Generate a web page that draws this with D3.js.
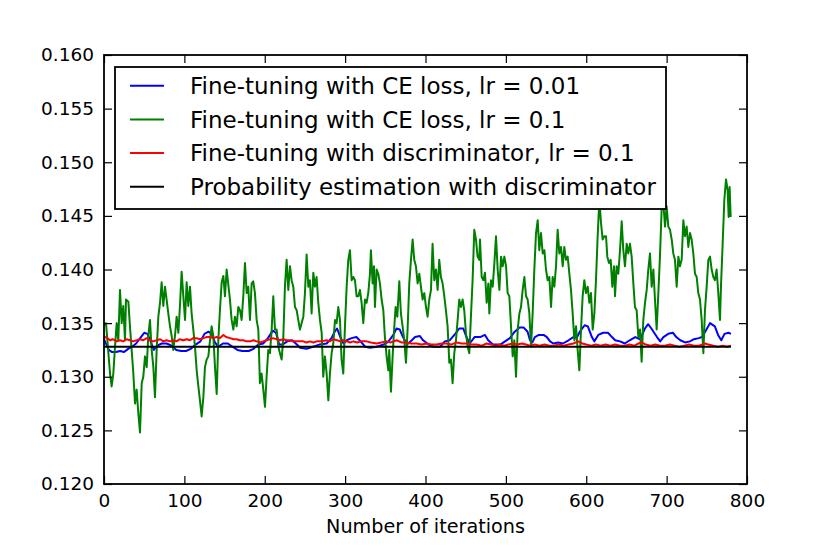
<!DOCTYPE html>
<html>
<head>
<meta charset="utf-8">
<script src="https://cdn.jsdelivr.net/npm/d3@7"></script>
<style>
  body { margin: 0; background: #fff; }
  svg { display: block; font-family: "DejaVu Sans", sans-serif; }
</style>
</head>
<body>
<div id="chart"></div>
<script>
// series: [iteration, value]
let ceLowLr = [[0,0.1335],[3,0.1330],[6,0.1325],[10,0.1323],[15,0.1323],[20,0.1324],[25,0.1323],[30,0.1326],[35,0.1328],[40,0.1331],[45,0.1336],[50,0.1341],[54,0.1340],[58,0.1333],[62,0.1325],[66,0.1329],[72,0.1331],[78,0.1331],[84,0.1329],[90,0.1325],[96,0.1324],[102,0.1324],[108,0.1326],[114,0.1330],[120,0.1333],[125,0.1340],[130,0.1342],[134,0.1340],[138,0.1332],[142,0.1328],[148,0.1331],[154,0.1331],[160,0.1328],[166,0.1325],[172,0.1324],[180,0.1324],[186,0.1326],[192,0.1330],[198,0.1331],[204,0.1336],[210,0.1343],[214,0.1341],[218,0.1330],[222,0.1330],[228,0.1333],[234,0.1334],[240,0.1330],[244,0.1327],[252,0.1326],[260,0.1328],[268,0.1330],[277,0.1331],[283,0.1336],[287,0.1342],[290,0.1345],[294,0.1337],[298,0.1331],[302,0.1334],[308,0.1336],[314,0.1337],[318,0.1334],[325,0.1328],[331,0.1327],[339,0.1328],[348,0.1330],[354,0.1333],[360,0.1339],[364,0.1345],[368,0.1344],[372,0.1337],[377,0.1330],[383,0.1334],[387,0.1337],[393,0.1338],[397,0.1334],[404,0.1330],[410,0.1328],[418,0.1328],[424,0.1333],[430,0.1334],[437,0.1340],[442,0.1345],[447,0.1345],[451,0.1337],[455,0.1331],[461,0.1337],[468,0.1337],[474,0.1339],[478,0.1334],[484,0.1330],[493,0.1330],[499,0.1333],[505,0.1336],[511,0.1342],[517,0.1346],[522,0.1346],[527,0.1342],[530,0.1334],[533,0.1332],[536,0.1337],[541,0.1339],[547,0.1339],[551,0.1337],[555,0.1333],[559,0.1331],[565,0.1332],[571,0.1331],[578,0.1334],[584,0.1337],[588,0.1336],[592,0.1342],[598,0.1348],[602,0.1347],[607,0.1337],[610,0.1333],[615,0.1339],[621,0.1341],[627,0.1341],[632,0.1337],[636,0.1334],[642,0.1333],[648,0.1331],[654,0.1334],[661,0.1337],[667,0.1335],[673,0.1345],[677,0.1349],[681,0.1345],[688,0.1337],[692,0.1333],[696,0.1337],[702,0.1340],[708,0.1341],[712,0.1337],[717,0.1334],[723,0.1332],[729,0.1333],[734,0.1335],[740,0.1336],[744,0.1337],[748,0.1342],[754,0.1350],[760,0.1347],[764,0.1339],[768,0.1334],[772,0.1340],[777,0.1341],[780,0.1340]];

let ceHighLr = [[0,0.1348],[2.5,0.1350],[7.5,0.1303],[9.5,0.1291],[11.6,0.1303],[13.7,0.1328],[15.8,0.1350],[17.8,0.1334],[19.9,0.1381],[22,0.1350],[24,0.1366],[26.1,0.1334],[27.4,0.1372],[30.3,0.1370],[32.3,0.1347],[34.4,0.1325],[36.5,0.1303],[38.6,0.1275],[40.6,0.1288],[42.7,0.1266],[44.8,0.1248],[46.9,0.1294],[48.9,0.1300],[51,0.1319],[53.1,0.1309],[55.1,0.1338],[57.2,0.1353],[59.3,0.1325],[61.4,0.1309],[63.4,0.1281],[65.5,0.1325],[67.6,0.1356],[69.7,0.1369],[71.7,0.1388],[73.8,0.1366],[75.9,0.1384],[77.9,0.1372],[80,0.1359],[82.1,0.1347],[84.2,0.1338],[86.2,0.1325],[88.3,0.1338],[90.4,0.1356],[92.5,0.1341],[94.5,0.1366],[96.6,0.1398],[98.7,0.1375],[100.8,0.1353],[102.8,0.1388],[104.9,0.1366],[107,0.1384],[109,0.1359],[111.1,0.1344],[113.2,0.1328],[115.3,0.1306],[117.4,0.1291],[119.4,0.1278],[121.5,0.1263],[123.6,0.1281],[125.6,0.1309],[127.7,0.1316],[129.8,0.1319],[131.9,0.1334],[133.9,0.1347],[136,0.1338],[138.1,0.1309],[140.2,0.1284],[142.2,0.1334],[144.3,0.1363],[146.4,0.1388],[148.5,0.1394],[150.5,0.1375],[152.6,0.1400],[156.7,0.1372],
  [158.8,0.1353],[160.9,0.1344],[162.9,0.1356],[165,0.1347],[167.1,0.1365],[169.2,0.1362],[171.2,0.1353],[173.3,0.1375],[175.4,0.1406],[177.5,0.1378],[179.5,0.1384],[181.6,0.1353],[183.7,0.1387],[185.7,0.1389],[187.8,0.1378],[189.9,0.1353],[192,0.1344],[194,0.1294],[196.1,0.1303],[198.2,0.1288],[200.3,0.1272],[202.3,0.1300],[204.4,0.1325],[206.5,0.1322],[208.6,0.1344],[210.6,0.1375],[212.7,0.1344],[214.8,0.1344],[216.9,0.1328],[218.9,0.1322],[221,0.1316],[223.1,0.1337],[225.1,0.1384],[227.2,0.1409],[229.3,0.1381],[231.4,0.1403],[233.4,0.1390],[235.5,0.1384],[237.6,0.1365],[239.7,0.1362],[241.7,0.1353],[243.8,0.1344],[245.9,0.1350],[248,0.1356],[250,0.1378],[252.1,0.1414],[254.2,0.1384],[256.2,0.1390],[258.3,0.1359],[260.4,0.1397],[262.5,0.1384],[264.5,0.1393],[266.6,0.1369],[268.7,0.1353],[270.8,0.1341],[272.8,0.1300],[274.9,0.1319],[277,0.1303],[279.1,0.1278],[281.1,0.1303],[283.2,0.1322],[285.3,0.1331],[287.4,0.1353],[289.4,0.1350],[291.5,0.1365],[293.6,0.1353],[295.6,0.1316],[297.7,0.1303],[299.8,0.1347],[301.9,0.1384],[303.9,0.1409],[306,0.1418],[308.1,0.1390],[310.2,0.1393],[312.2,0.1390],
  [314.3,0.1375],[316.4,0.1375],[318.4,0.1381],[320.5,0.1369],[322.6,0.1350],[324.7,0.1372],[326.7,0.1369],[328.8,0.1378],[330.9,0.1396],[332.1,0.1418],[334.2,0.1387],[335.9,0.1403],[337.1,0.1365],[339.2,0.1400],[341.2,0.1396],[343.3,0.1387],[345.4,0.1372],[347.5,0.1362],[349.5,0.1337],[351.6,0.1319],[353.7,0.1306],[354.9,0.1325],[357,0.1286],[359.1,0.1319],[360.7,0.1341],[362.8,0.1365],[364.9,0.1356],[367.4,0.1389],[369.4,0.1359],[371.5,0.1347],[373.6,0.1334],[375.7,0.1313],[377.7,0.1344],[379.8,0.1387],[381.9,0.1409],[384,0.1428],[386,0.1409],[388.1,0.1403],[390.2,0.1387],[392.3,0.1396],[394.3,0.1384],[396.4,0.1372],[398.5,0.1378],[400.6,0.1365],[402.6,0.1356],[404.7,0.1372],[406.8,0.1381],[408.8,0.1424],[410.9,0.1390],[413,0.1400],[415.1,0.1381],[417.1,0.1409],[419.2,0.1393],[421.3,0.1387],[423.4,0.1375],[425.4,0.1362],[427.5,0.1347],[429.6,0.1313],[431.7,0.1316],[433.7,0.1294],[435.8,0.1322],[437.9,0.1334],[440,0.1353],[442,0.1372],[444.1,0.1365],[446.2,0.1372],[448.2,0.1362],[450.3,0.1341],[452.4,0.1328],[454.5,0.1322],[456.5,0.1356],[458.6,0.1390],[460.7,0.1437],[462.8,0.1428],[464.8,0.1412],[466.9,0.1409],
  [467.8,0.1428],[469.9,0.1393],[472,0.1390],[474,0.1397],[476.1,0.1369],[478.2,0.1387],[479.4,0.1359],[481.5,0.1390],[483.6,0.1384],[485.7,0.1406],[487.7,0.1431],[489.8,0.1400],[491.9,0.1381],[494,0.1412],[496,0.1403],[498.1,0.1412],[500.2,0.1403],[502.2,0.1378],[504.3,0.1375],[506.4,0.1347],[508.5,0.1319],[510.5,0.1334],[512.6,0.1300],[514.7,0.1344],[516.8,0.1359],[518.8,0.1365],[520.9,0.1381],[523,0.1393],[525.1,0.1375],[527.1,0.1372],[529.2,0.1359],[531.3,0.1328],[533.3,0.1359],[535.4,0.1400],[537.5,0.1434],[539.6,0.1446],[541.6,0.1418],[543.7,0.1434],[545.8,0.1415],[547.9,0.1418],[549.9,0.1400],[552,0.1390],[554.1,0.1393],[556.2,0.1365],[558.2,0.1393],[560.3,0.1384],[562.4,0.1403],[564.4,0.1437],[566.5,0.1415],[568.6,0.1421],[570.7,0.1403],[572.7,0.1421],[574.8,0.1409],[576.9,0.1412],[579,0.1396],[581,0.1381],[583.1,0.1359],[585.2,0.1334],[587.3,0.1347],[589.3,0.1325],[591.4,0.1306],[593.5,0.1344],[595.5,0.1375],[597.6,0.1390],[599.7,0.1378],[601.8,0.1384],[603.8,0.1369],[605.9,0.1378],[608,0.1344],[610.1,0.1359],[612.1,0.1390],[614.2,0.1431],[616.3,0.1465],[618.4,0.1443],[620.4,0.1428],[622.5,0.1431],
  [624.6,0.1431],[626.2,0.1412],[628.3,0.1406],[630.4,0.1409],[632.4,0.1384],[634.5,0.1403],[635.8,0.1375],[637.8,0.1403],[639.9,0.1396],[642,0.1418],[644.1,0.1445],[646.1,0.1418],[648.2,0.1403],[650.3,0.1424],[652.3,0.1415],[654.4,0.1424],[656.5,0.1412],[658.6,0.1387],[660.6,0.1365],[662.7,0.1362],[664.8,0.1337],[666.9,0.1344],[668.9,0.1314],[671,0.1353],[673.1,0.1369],[675.2,0.1381],[677.2,0.1400],[679.3,0.1415],[681.4,0.1384],[683.5,0.1400],[685.5,0.1372],[687.6,0.1344],[689.7,0.1378],[691.7,0.1412],[693.8,0.1456],[695.9,0.1462],[698,0.1440],[700,0.1459],[702.1,0.1440],[704.2,0.1437],[706.3,0.1428],[708.3,0.1415],[710.4,0.1409],[712.5,0.1384],[714.6,0.1412],[716.6,0.1403],[718.7,0.1409],[720.8,0.1446],[722.8,0.1431],[724.9,0.1440],[727,0.1421],[729.1,0.1434],[731.1,0.1428],[733.2,0.1415],[735.3,0.1396],[737.4,0.1393],[739.4,0.1378],[741.5,0.1372],[743.6,0.1353],[745.7,0.1322],[747.7,0.1362],[749.8,0.1384],[751.9,0.1409],[754,0.1412],[756,0.1400],[758.1,0.1393],[760.2,0.1390],[762.2,0.1400],[764.3,0.1378],[766.4,0.1353],[767.6,0.1384],[769.7,0.1424],[771.8,0.1465],[773.9,0.1484],[775.9,0.1474],[777.2,0.1449],[778.4,0.1477],[779.7,0.1449]];

let discHighLr = [[0,0.1338],[1.3,0.1337],[4,0.1336],[7.5,0.1334],[11,0.1335],[15.8,0.1333],[20,0.1334],[24,0.1333],[28,0.1335],[32.4,0.1334],[36,0.1333],[40.7,0.1334],[45,0.1335],[48.9,0.1334],[53,0.1336],[57.2,0.1334],[61,0.1333],[65.5,0.1334],[70,0.1335],[73.8,0.1333],[78,0.1334],[82.1,0.1333],[86,0.1334],[90.4,0.1333],[94,0.1335],[98.7,0.1334],[103,0.1335],[107,0.1334],[111,0.1336],[115.3,0.1336],[119,0.1335],[123.6,0.1336],[128,0.1337],[131.9,0.1337],[136,0.1336],[140.2,0.1337],[144,0.1336],[148.5,0.1339],[152,0.1337],[156.8,0.1336],[161,0.1335],[165,0.1335],[169,0.1334],[173.4,0.1334],[177,0.1333],[181.7,0.1333],[186,0.1334],[190,0.1333],[194,0.1332],[198.2,0.1333],[202,0.1334],[206.5,0.1335],[210,0.1336],[214.8,0.1335],[219,0.1334],[223.1,0.1335],[227,0.1334],[231.4,0.1334],[235,0.1333],[239.7,0.1333],[244,0.1333],[248,0.1333],[252,0.1332],[256.3,0.1333],[260.4,0.1332],[264.6,0.1333],[270,0.1333],[277,0.1334],[281,0.1333],[285.3,0.1335],[290,0.1334],[294,0.1333],[297.7,0.1334],[302,0.1333],[306,0.1332],[310.2,0.1333],[315,0.1332],[320,0.1333],[326.7,0.1333],[332,0.1332],[339.2,0.1331],[345,0.1332],[351.6,0.1333],[357,0.1332],[364,0.1334],[370,0.1332],[376.5,0.1332],[382,0.1331],[389,0.1331],[395,0.1330],[401.4,0.1331],[407,0.1330],[413.8,0.1330],[420,0.1331],[426.3,0.1331],[432,0.1330],[438.7,0.1332],[445,0.1331],[451.2,0.1331],[457,0.1330],[463.6,0.1330],[470,0.1329],[476,0.1331],[482,0.1330],[487,0.1329],[492.6,0.1330],[498,0.1329],[503,0.1330],[509.2,0.1331],[514,0.1330],[520,0.1331],[525,0.1330],[530,0.1329],[536,0.1330],[542,0.1329],[548,0.1330],[554,0.1329],[560,0.1329],[566,0.1330],[572,0.1329],[578,0.1330],[584,0.1331],[590,0.1333],[595,0.1331],[600,0.1330],[606,0.1329],[612,0.1330],[618,0.1329],[624,0.1330],[630,0.1329],[636,0.1330],[642,0.1329],[648,0.1329],[654,0.1330],[660,0.1329],[665,0.1331],[669,0.1332],[674,0.1330],[680,0.1329],[686,0.1330],[692,0.1329],[698,0.1329],[704,0.1330],[710,0.1329],[716,0.1328],[722,0.1329],[728,0.1330],[734,0.1329],[740,0.1329],[744,0.1330],[748,0.1331],[752,0.1330],[758,0.1329],[764,0.1328],[770,0.1329],[775,0.1328],[780,0.1329]];

let probEstimate = [[0,0.1328],[780,0.1328]];

let legendLabels = [
    'Fine-tuning with CE loss, lr = 0.01',
    'Fine-tuning with CE loss, lr = 0.1',
    'Fine-tuning with discriminator, lr = 0.1',
    'Probability estimation with discriminator'
];
let seriesColors = ['#0000ff', '#008000', '#ff0000', '#000000'];
let xTicks = [0, 100, 200, 300, 400, 500, 600, 700, 800];
let yTicks = [0.120, 0.125, 0.130, 0.135, 0.140, 0.145, 0.150, 0.155, 0.160];

let allSeries = [ceLowLr, ceHighLr, discHighLr, probEstimate];

// svg size and plot box (matches the window)
let svg_width = 830;
let svg_height = 554;
let plot = {left: 104, right: 747, top: 55, bottom: 484};
let font_size = 18.5;
let legend_font = 23;
let tick_len = 8;

let svg = d3.select('#chart')
    .append('svg')
    .attr('width', svg_width)
    .attr('height', svg_height);

let x = d3.scaleLinear().domain([0, 800]).range([plot.left, plot.right]);
let y = d3.scaleLinear().domain([0.120, 0.160]).range([plot.bottom, plot.top]);

// data lines, drawn in legend order (black ends up on top)
let line = d3.line()
    .x(function(d){ return x(d[0]); })
    .y(function(d){ return y(d[1]); });

svg.selectAll('path.series')
    .data(allSeries)
    .enter()
    .append('path')
    .attr('class', 'series')
    .attr('d', line)
    .attr('fill', 'none')
    .attr('stroke', function(d, i){ return seriesColors[i]; })
    .attr('stroke-width', 2)
    .attr('stroke-linejoin', 'round');

// axes, ticks pointing inward on all four sides
function styleAxis(g){
    g.select('.domain').remove();
    g.selectAll('.tick line').attr('stroke', '#000').attr('stroke-width', 1.2);
    g.selectAll('.tick text')
        .attr('fill', '#000')
        .attr('font-size', font_size)
        .attr('font-family', '"DejaVu Sans", sans-serif');
}

svg.append('g')
    .attr('transform', 'translate(0,' + plot.bottom + ')')
    .call(d3.axisBottom(x).tickValues(xTicks).tickSizeInner(-tick_len).tickSizeOuter(0)
        .tickPadding(10).tickFormat(d3.format('d')))
    .call(styleAxis);

svg.append('g')
    .attr('transform', 'translate(0,' + plot.top + ')')
    .call(d3.axisTop(x).tickValues(xTicks).tickSizeInner(-tick_len).tickSizeOuter(0).tickFormat(''))
    .call(styleAxis);

svg.append('g')
    .attr('transform', 'translate(' + plot.left + ',0)')
    .call(d3.axisLeft(y).tickValues(yTicks).tickSizeInner(-tick_len).tickSizeOuter(0)
        .tickPadding(10).tickFormat(d3.format('.3f')))
    .call(styleAxis);

svg.append('g')
    .attr('transform', 'translate(' + plot.right + ',0)')
    .call(d3.axisRight(y).tickValues(yTicks).tickSizeInner(-tick_len).tickSizeOuter(0).tickFormat(''))
    .call(styleAxis);

// frame
svg.append('rect')
    .attr('x', plot.left)
    .attr('y', plot.top)
    .attr('width', plot.right - plot.left)
    .attr('height', plot.bottom - plot.top)
    .attr('fill', 'none')
    .attr('stroke', '#000')
    .attr('stroke-width', 1.8);

// x label
svg.append('text')
    .attr('x', (plot.left + plot.right) / 2)
    .attr('y', 533)
    .attr('text-anchor', 'middle')
    .attr('font-size', 19.2)
    .text('Number of iterations');

// legend box (opaque, covers the lines behind it)
let legend = {x: 115, y: 67, w: 551, h: 142, row: 33.7};

svg.append('rect')
    .attr('x', legend.x)
    .attr('y', legend.y)
    .attr('width', legend.w)
    .attr('height', legend.h)
    .attr('fill', '#fff')
    .attr('stroke', '#000')
    .attr('stroke-width', 1.8);

let rows = svg.selectAll('g.legend-row')
    .data(legendLabels)
    .enter()
    .append('g')
    .attr('class', 'legend-row')
    .attr('transform', function(d, i){ return 'translate(0,' + (legend.y + 18.7 + i * legend.row) + ')'; });

rows.append('line')
    .attr('x1', 130)
    .attr('x2', 164)
    .attr('y1', 0)
    .attr('y2', 0)
    .attr('stroke', function(d, i){ return seriesColors[i]; })
    .attr('stroke-width', 2);

rows.append('text')
    .attr('x', 190)
    .attr('y', 8.2)
    .attr('font-size', legend_font)
    .text(function(d){ return d; });
</script>
</body>
</html>
